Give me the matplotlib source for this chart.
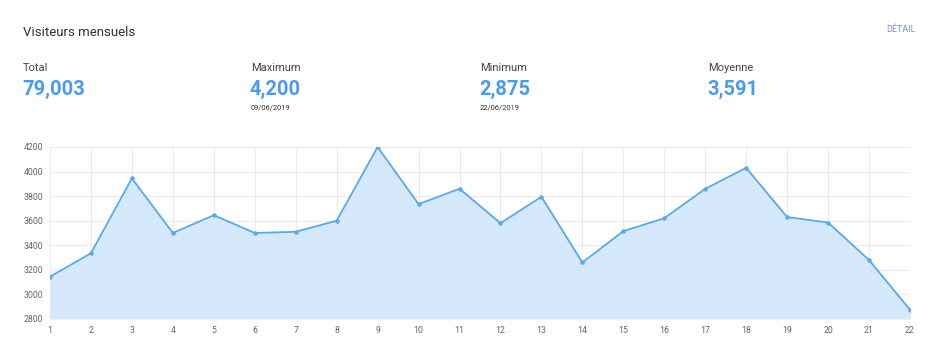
import matplotlib
matplotlib.use("Agg")
import matplotlib.pyplot as plt

plt.rcParams['font.family'] = ['Roboto', 'DejaVu Sans']

days = list(range(1, 23))
visitors = [3145, 3335, 3945, 3500, 3645, 3500, 3510, 3600, 4200, 3735, 3860, 3580,
            3795, 3260, 3515, 3620, 3860, 4030, 3630, 3585, 3280, 2875]
y_ticks = [2800, 3000, 3200, 3400, 3600, 3800, 4000, 4200]

title = "Visiteurs mensuels"
link = "DÉTAIL"
stat_labels = ["Total", "Maximum", "Minimum", "Moyenne"]
stat_values = ["79,003", "4,200", "2,875", "3,591"]
stat_dates = ["", "09/06/2019", "22/06/2019", ""]

W, H = 940, 360
fig = plt.figure(figsize=(W / 100, H / 100), dpi=100)
fig.patch.set_facecolor("white")

def fx(px):
    return px / W

def fy(py):
    return 1 - py / H

fig.text(fx(23), fy(33), title, fontsize=9.5, color="#333333", va="center", ha="left")
fig.text(fx(916), fy(30), link, fontsize=6.5, color="#7b8ee0", va="center", ha="right")

col_x = [23, 251, 480, 708]
for x, lab, val, d in zip(col_x, stat_labels, stat_values, stat_dates):
    fig.text(fx(x), fy(68), lab, fontsize=8, color="#444444", va="center", ha="left")
    fig.text(fx(x - 1), fy(89), val, fontsize=14.5, color="#4a9bf0", fontweight="bold",
             va="center", ha="left")
    if d:
        fig.text(fx(x), fy(108), d, fontsize=5.4, color="#333333", va="center", ha="left")

ax = fig.add_axes([fx(50), fy(319), fx(910) - fx(50), fy(147) - fy(319)])
ax.fill_between(days, visitors, 2800, color="#d6e9fc", linewidth=0)
ax.plot(days, visitors, color="#5aa8ee", linewidth=1.3, marker="o", markersize=2.2,
        markerfacecolor="#5aa8ee", markeredgecolor="#5aa8ee")
ax.set_xlim(1, 22)
ax.set_ylim(2800, 4200)
ax.set_xticks(days)
ax.set_yticks(y_ticks)
ax.grid(True, color="#ebebeb", linewidth=0.8)
ax.set_axisbelow(True)
for s in ax.spines.values():
    s.set_visible(False)
ax.tick_params(axis="both", length=0, labelsize=6.3, labelcolor="#666666")
ax.tick_params(axis="x", pad=5)
ax.tick_params(axis="y", pad=5)

fig.savefig("out.png", dpi=100, facecolor="white")
